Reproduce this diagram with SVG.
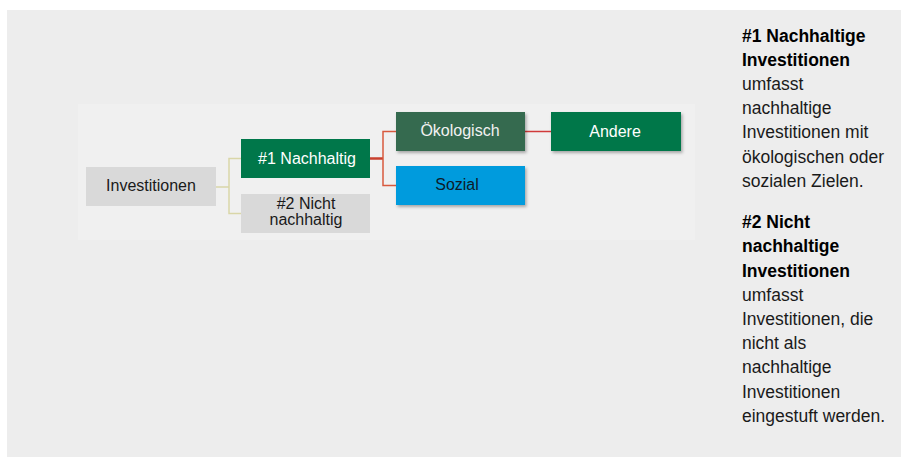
<svg xmlns="http://www.w3.org/2000/svg" width="901" height="457" viewBox="0 0 901 457">
  <defs>
    <filter id="sh" x="-10%" y="-20%" width="130%" height="150%">
      <feDropShadow dx="1.5" dy="2" stdDeviation="1.5" flood-color="#000" flood-opacity="0.3"/>
    </filter>
  </defs>
  <style>
    .t{font-family:"Liberation Sans",Arial,sans-serif;font-size:16px;text-anchor:middle}
    .dark{fill:#1a1a1a}
    .light{fill:#ffffff}
    .side{font-family:"Liberation Sans",Arial,sans-serif;font-size:17.5px;fill:#1a1a1a}
    .b{font-weight:bold;fill:#000}
    .c1{fill:none;stroke:#D9D6A8;stroke-width:1.5}
    .c2{fill:none;stroke:#D8593E;stroke-width:1.5}
  </style>
  <rect x="0" y="0" width="901" height="457" fill="#ffffff"/>
  <rect x="7" y="10" width="894" height="447" fill="#EDEDED"/>
  <rect x="78" y="104" width="617" height="136" fill="#F0F0F0"/>

  <g id="connectors">
    <polyline class="c1" points="216,187 229,187"/>
    <polyline class="c1" points="241,158.5 229,158.5 229,213.5 241,213.5"/>
    <line x1="370" y1="158.5" x2="383" y2="158.5" stroke="#C9402E" stroke-width="2.5"/>
    <polyline class="c2" points="396,131.5 383,131.5 383,185.5 396,185.5"/>
    <line x1="525" y1="131.5" x2="551" y2="131.5" stroke="#D03A3A" stroke-width="1.5"/>
  </g>

  <g id="investitionen">
    <rect x="86" y="167" width="130" height="39" fill="#D9D9D9"/>
    <text class="t dark" x="151" y="191">Investitionen</text>
  </g>
  <g id="nachhaltig">
    <rect x="241" y="139" width="129" height="39" fill="#00774A"/>
    <text class="t light" x="307" y="164">#1 Nachhaltig</text>
  </g>
  <g id="nicht-nachhaltig">
    <rect x="241" y="194" width="129" height="39" fill="#D9D9D9"/>
    <text class="t dark" x="306" y="209">#2 Nicht</text>
    <text class="t dark" x="306" y="225">nachhaltig</text>
  </g>
  <g id="oekologisch">
    <rect x="396" y="112" width="129" height="39" fill="#346B50" filter="url(#sh)"/>
    <text class="t" fill="#F2F2F2" x="460" y="136">Ökologisch</text>
  </g>
  <g id="sozial">
    <rect x="396" y="166" width="129" height="39" fill="#009BDD" filter="url(#sh)"/>
    <text class="t" fill="#0D1B2A" x="457" y="190">Sozial</text>
  </g>
  <g id="andere">
    <rect x="551" y="112" width="130" height="39" fill="#00774A" filter="url(#sh)"/>
    <text class="t light" x="615" y="137">Andere</text>
  </g>

  <g id="legend">
    <text class="side b" x="742" y="42">#1 Nachhaltige</text>
    <text class="side b" x="742" y="66">Investitionen</text>
    <text class="side" x="742" y="90">umfasst</text>
    <text class="side" x="742" y="114">nachhaltige</text>
    <text class="side" x="742" y="138">Investitionen mit</text>
    <text class="side" x="742" y="163">ökologischen oder</text>
    <text class="side" x="742" y="187">sozialen Zielen.</text>

    <text class="side b" x="742" y="228">#2 Nicht</text>
    <text class="side b" x="742" y="252">nachhaltige</text>
    <text class="side b" x="742" y="277">Investitionen</text>
    <text class="side" x="742" y="301">umfasst</text>
    <text class="side" x="742" y="325">Investitionen, die</text>
    <text class="side" x="742" y="349">nicht als</text>
    <text class="side" x="742" y="373">nachhaltige</text>
    <text class="side" x="742" y="398">Investitionen</text>
    <text class="side" x="742" y="422">eingestuft werden.</text>
  </g>
</svg>
